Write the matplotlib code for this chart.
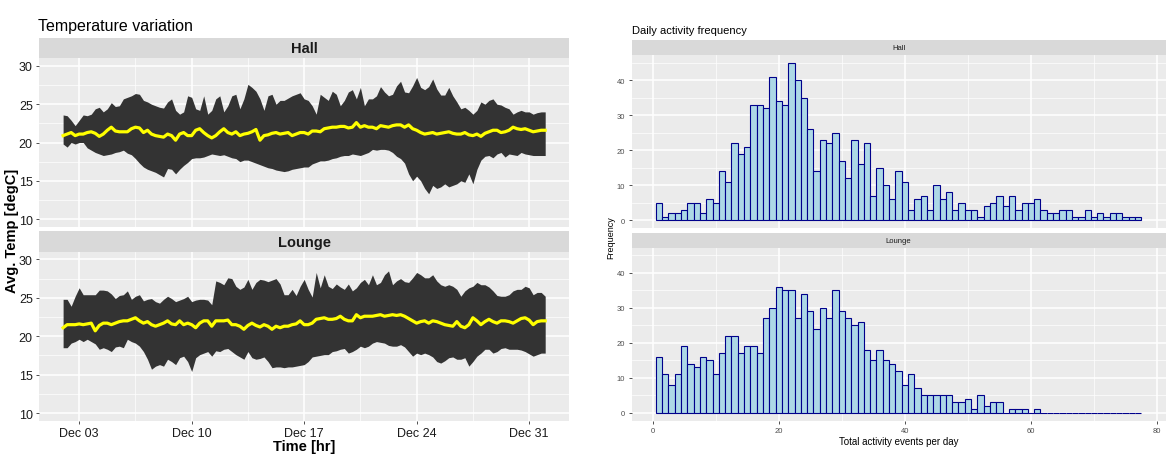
import numpy as np
import pandas as pd
import matplotlib
matplotlib.use('Agg')
import matplotlib.pyplot as plt
import matplotlib.dates as mdates

plt.rcParams['font.family'] = ['Liberation Sans', 'DejaVu Sans']

# 6-hourly temperature summary, Dec 2 00:00 -> Jan 1 00:00
times = pd.date_range('2023-12-02', periods=121, freq='6h')

hall_max = [23.6, 23.5, 22.9, 22.2, 22.9, 23.6, 23.5, 23.7, 24.4, 24.6, 24.0, 24.4,
            25.2, 24.7, 24.8, 25.7, 25.9, 26.1, 26.4, 26.3, 25.5, 25.3, 25.0, 24.8,
            24.6, 24.5, 25.3, 25.7, 24.2, 23.7, 24.0, 26.1, 25.9, 24.4, 24.2, 26.1,
            23.7, 24.2, 25.7, 26.1, 24.0, 24.8, 26.1, 26.3, 24.4, 25.7, 27.6, 27.2,
            26.7, 25.7, 24.2, 26.1, 26.3, 25.0, 25.5, 25.5, 25.8, 26.1, 26.3, 26.5,
            25.7, 25.5, 24.8, 23.7, 26.3, 25.9, 25.5, 26.7, 26.3, 24.8, 25.5, 26.6,
            26.9, 25.7, 27.2, 24.8, 25.7, 25.7, 26.1, 27.3, 26.6, 26.1, 26.3, 27.4,
            28.0, 26.6, 26.5, 27.4, 28.5, 27.2, 26.9, 27.3, 28.3, 27.0, 26.2, 26.2,
            27.2, 26.1, 25.3, 24.4, 24.6, 24.2, 23.7, 24.2, 25.3, 25.0, 25.5, 25.7,
            25.0, 24.9, 24.6, 24.4, 23.7, 24.0, 24.2, 24.0, 24.0, 23.7, 23.9, 24.0,
            24.0]
hall_min = [19.8, 19.4, 20.0, 19.8, 20.0, 20.0, 19.3, 19.0, 18.7, 18.5, 18.3, 18.4,
            18.5, 18.7, 18.8, 19.0, 18.6, 18.4, 17.9, 17.3, 16.8, 16.5, 16.3, 16.1,
            15.8, 15.5, 16.6, 16.5, 15.9, 16.5, 17.0, 17.4, 17.9, 18.0, 18.0, 18.1,
            18.3, 18.5, 18.4, 18.3, 18.4, 18.2, 18.0, 17.9, 17.5, 17.7, 17.7, 17.5,
            17.3, 17.1, 16.9, 16.7, 16.6, 16.4, 16.3, 16.2, 16.3, 16.5, 16.6, 16.7,
            16.8, 16.8, 17.2, 17.4, 17.6, 17.6, 17.7, 17.9, 18.0, 18.2, 18.3, 18.3,
            18.5, 18.4, 18.3, 18.5, 18.7, 19.1, 19.0, 19.1, 19.1, 19.0, 18.7, 18.2,
            17.9, 17.3, 15.9, 15.0, 15.6, 15.0, 14.0, 13.3, 14.4, 14.0, 14.2, 14.6,
            14.2, 14.4, 14.6, 15.0, 14.8, 15.9, 14.6, 16.5, 17.7, 18.2, 18.3, 18.0,
            18.5, 18.7, 18.1, 18.5, 18.4, 18.3, 18.7, 18.5, 18.4, 18.3, 18.3, 18.3,
            18.3]
hall_mean = [20.9, 21.1, 21.3, 20.9, 21.1, 21.1, 21.3, 21.4, 21.2, 20.8, 21.1, 21.6,
             22.0, 21.5, 21.4, 21.4, 21.4, 21.8, 22.0, 21.9, 21.3, 21.6, 21.1, 20.9,
             20.8, 20.7, 21.1, 20.9, 20.3, 21.1, 21.3, 20.9, 20.9, 21.6, 21.8, 21.3,
             20.9, 20.6, 20.9, 21.4, 21.8, 21.3, 21.1, 21.4, 20.9, 21.1, 21.2, 21.4,
             21.7, 20.3, 20.9, 21.0, 21.2, 21.3, 21.1, 21.2, 21.3, 20.9, 21.1, 21.3,
             21.3, 21.1, 21.5, 21.5, 21.4, 21.8, 21.9, 22.0, 22.0, 22.1, 22.1, 21.9,
             22.0, 22.6, 22.0, 22.2, 22.0, 22.0, 21.8, 22.2, 22.1, 22.0, 22.2, 22.3,
             22.3, 22.0, 22.3, 21.8, 21.6, 21.3, 21.1, 21.2, 21.3, 21.1, 21.2, 21.3,
             21.4, 21.2, 21.1, 21.1, 21.3, 21.0, 20.9, 21.1, 20.8, 21.2, 21.4, 21.6,
             21.6, 21.3, 21.4, 21.6, 22.0, 21.8, 21.7, 21.8, 21.6, 21.4, 21.5, 21.6,
             21.6]

lounge_max = [24.8, 24.8, 23.9, 25.2, 26.3, 25.4, 25.4, 25.4, 25.4, 26.0, 26.0, 25.9,
              25.5, 24.9, 25.3, 25.4, 25.9, 24.8, 25.2, 25.4, 24.6, 24.8, 24.9, 24.5,
              24.3, 24.8, 25.2, 24.9, 24.5, 24.7, 24.9, 25.2, 24.5, 24.7, 24.8, 24.8,
              24.7, 24.1, 27.2, 27.0, 26.7, 27.6, 27.5, 26.5, 26.1, 26.4, 27.4, 26.1,
              27.0, 27.4, 27.3, 27.1, 27.3, 27.5, 26.8, 25.4, 25.4, 26.1, 25.3, 26.5,
              27.4, 26.1, 25.1, 28.3, 26.3, 28.0, 26.5, 26.2, 26.8, 26.4, 26.1, 26.8,
              25.9, 26.3, 27.0, 27.4, 26.7, 28.0, 26.7, 27.0, 28.0, 28.5, 26.7, 27.2,
              27.5, 27.1, 27.0, 27.6, 28.3, 28.0, 27.6, 27.6, 28.0, 27.2, 26.7, 26.5,
              26.7, 26.5, 26.1, 25.2, 25.9, 26.3, 26.5, 27.0, 26.7, 26.7, 26.4, 25.9,
              25.3, 25.2, 25.2, 25.4, 25.9, 26.1, 26.1, 26.5, 26.3, 25.4, 25.7, 25.7,
              25.2]
lounge_min = [18.5, 18.5, 19.1, 19.3, 19.6, 19.3, 19.6, 19.3, 19.0, 18.3, 18.5, 18.3,
              18.0, 18.6, 18.7, 18.5, 19.6, 19.3, 19.1, 18.7, 18.0, 17.0, 15.7, 16.1,
              16.3, 16.1, 17.0, 16.7, 16.3, 17.2, 17.4, 16.7, 15.4, 17.2, 17.6, 17.8,
              18.0, 17.4, 18.1, 18.0, 18.3, 18.4, 18.0, 17.6, 17.3, 17.0, 18.0, 17.2,
              17.0, 17.1, 17.3, 16.7, 15.9, 16.0, 16.0, 15.9, 16.0, 16.0, 16.1, 16.2,
              16.3, 16.7, 17.3, 17.4, 17.5, 17.6, 17.6, 18.0, 18.1, 18.3, 18.4, 17.8,
              18.0, 18.3, 18.7, 18.5, 18.7, 19.1, 19.3, 19.2, 19.1, 18.8, 18.7, 18.7,
              18.9, 18.6, 18.0, 17.4, 17.8, 17.6, 17.8, 17.6, 17.3, 16.7, 16.5, 16.8,
              17.2, 17.3, 17.0, 17.0, 17.2, 16.1, 16.7, 17.4, 17.8, 18.3, 18.3, 17.8,
              18.0, 18.4, 18.5, 18.3, 18.3, 18.3, 18.2, 18.0, 17.7, 17.4, 17.6, 17.8,
              17.8]
lounge_mean = [21.1, 21.5, 21.5, 21.5, 21.6, 21.5, 21.6, 21.7, 20.7, 21.4, 21.7, 21.7,
               21.5, 21.7, 21.9, 22.0, 22.0, 22.2, 22.4, 22.0, 21.7, 21.9, 21.5, 21.3,
               21.5, 21.7, 22.0, 21.6, 21.5, 22.0, 21.5, 21.7, 21.5, 21.1, 21.7, 22.0,
               22.0, 21.3, 22.0, 22.0, 22.0, 22.1, 21.5, 21.5, 21.3, 20.9, 21.4, 21.7,
               21.4, 21.2, 21.5, 21.3, 20.9, 21.3, 21.1, 21.3, 21.3, 21.5, 21.6, 22.0,
               21.5, 21.5, 21.7, 22.2, 22.3, 22.4, 22.2, 22.2, 22.3, 22.6, 22.2, 22.0,
               22.0, 22.8, 22.4, 22.6, 22.6, 22.6, 22.7, 22.8, 22.6, 22.7, 22.8, 22.7,
               22.8, 22.6, 22.3, 22.0, 21.7, 21.9, 22.0, 21.7, 22.0, 21.9, 21.7, 21.5,
               21.4, 21.3, 21.9, 21.3, 21.1, 21.5, 22.4, 22.0, 21.5, 21.9, 22.2, 21.9,
               21.7, 22.0, 22.0, 21.9, 21.7, 22.0, 22.3, 22.4, 22.1, 21.5, 21.9, 22.0,
               22.0]

# daily activity histogram, bins of width 1 centred on 1..77
bin_centers = list(range(1, 78))
hall_counts = [5, 1, 2, 2, 3, 5, 5, 2, 6, 5, 14, 11, 22, 19, 21, 33, 33, 32, 41, 34,
               33, 45, 40, 35, 26, 14, 23, 22, 25, 17, 12, 23, 16, 22, 7, 15, 10, 6, 14, 11,
               3, 6, 7, 3, 10, 6, 8, 3, 5, 3, 3, 1, 4, 5, 7, 4, 7, 3, 5, 5,
               6, 3, 2, 2, 3, 3, 1, 1, 3, 1, 2, 1, 2, 2, 1, 1, 1]
lounge_counts = [16, 11, 8, 11, 19, 14, 13, 16, 15, 11, 17, 22, 22, 17, 19, 19, 17, 27, 30, 36,
                 35, 35, 27, 34, 29, 24, 30, 27, 35, 29, 27, 25, 26, 18, 15, 18, 15, 14, 12, 8,
                 11, 7, 5, 5, 5, 5, 5, 3, 3, 4, 1, 5, 2, 3, 3, 0, 1, 1, 1, 0,
                 1, 0, 0, 0, 0, 0, 0, 0, 0, 0, 0, 0, 0, 0, 0, 0, 0]

W, H = 1168, 456
fig = plt.figure(figsize=(W / 100, H / 100), dpi=100)


def add_ax(l, t, r, b):
    return fig.add_axes([l / W, 1 - b / H, (r - l) / W, (b - t) / H])


def gg_panel(ax, tick_size, tick_col):
    ax.set_facecolor('#EBEBEB')
    for s in ax.spines.values():
        s.set_visible(False)
    ax.grid(True, which='major', color='white', lw=1.1)
    ax.grid(True, which='minor', color='white', lw=0.5)
    ax.set_axisbelow(True)
    ax.tick_params(which='major', length=2.5, width=0.6, color='#333333',
                   labelsize=tick_size, labelcolor=tick_col, pad=2)
    ax.tick_params(which='minor', length=0)


def strip(l, t, r, b, label, size, bold):
    sax = add_ax(l, t, r, b)
    sax.set_facecolor('#D9D9D9')
    sax.set_xticks([])
    sax.set_yticks([])
    for s in sax.spines.values():
        s.set_visible(False)
    sax.text(0.5, 0.5, label, ha='center', va='center', fontsize=size,
             fontweight='bold' if bold else 'normal', color='#1A1A1A',
             transform=sax.transAxes)


# ---- left: temperature variation ----
x0 = mdates.date2num(pd.Timestamp('2023-11-30 12:00'))
x1 = mdates.date2num(pd.Timestamp('2024-01-02 12:00'))
major_days = pd.to_datetime(['2023-12-03', '2023-12-10', '2023-12-17', '2023-12-24', '2023-12-31'])
minor_days = major_days[:-1] + pd.Timedelta(hours=84)

left_panels = [('Hall', hall_min, hall_max, hall_mean, 39.3, 59.3, 227.7),
               ('Lounge', lounge_min, lounge_max, lounge_mean, 232.3, 252.7, 421.7)]
for name, lo, hi, mu, st, pt, pb in left_panels:
    strip(39, st, 569.3, pt, name, 10.5, True)
    ax = add_ax(39, pt, 569.3, pb)
    gg_panel(ax, 9, '#1A1A1A')
    ax.fill_between(times, lo, hi, color='#333333', lw=0)
    ax.plot(times, mu, color='#FFFF00', lw=2.3)
    ax.set_xlim(x0, x1)
    ax.set_ylim(9, 31)
    ax.set_yticks([10, 15, 20, 25, 30])
    ax.set_yticks([12.5, 17.5, 22.5, 27.5], minor=True)
    ax.set_xticks(major_days)
    ax.set_xticks(minor_days, minor=True)
    ax.xaxis.set_major_formatter(mdates.DateFormatter('%b %d'))
    if name == 'Hall':
        ax.tick_params(axis='x', which='both', length=0, labelbottom=False)
    else:
        ax.set_xlabel('Time [hr]', fontsize=10.5, fontweight='bold', labelpad=0)

fig.text(38 / W, 1 - 26 / H, 'Temperature variation', fontsize=11.5, va='center', ha='left')
fig.text(12 / W, 1 - 231 / H, 'Avg. Temp [degC]', fontsize=10.5, fontweight='bold',
         rotation=90, va='center', ha='center')

# ---- right: activity histograms ----
right_panels = [('Hall', hall_counts, 41, 56.1, 229.2),
                ('Lounge', lounge_counts, 234, 248.6, 421.6)]
for name, counts, st, pt, pb in right_panels:
    strip(631.5, st, 1165.6, pt, name, 5.5, False)
    ax = add_ax(631.5, pt, 1165.6, pb)
    gg_panel(ax, 5.5, '#4D4D4D')
    ax.bar(bin_centers, counts, width=1, color='#ADD8E6', edgecolor='#00008B', lw=0.8)
    ax.set_xlim(-3.35, 81.35)
    ax.set_ylim(-2.25, 47.25)
    ax.set_yticks([0, 10, 20, 30, 40])
    ax.set_yticks([5, 15, 25, 35, 45], minor=True)
    ax.set_xticks([0, 20, 40, 60, 80])
    ax.set_xticks([10, 30, 50, 70], minor=True)
    if name == 'Hall':
        ax.tick_params(axis='x', which='both', length=0, labelbottom=False)
    else:
        ax.set_xlabel('Total activity events per day', fontsize=7, labelpad=1.5)

fig.text(632 / W, 1 - 31 / H, 'Daily activity frequency', fontsize=8, va='center', ha='left')
fig.text(611 / W, 1 - 238 / H, 'Frequency', fontsize=6.5, rotation=90, va='center', ha='center')

fig.savefig('out.png', dpi=100, facecolor='white')
